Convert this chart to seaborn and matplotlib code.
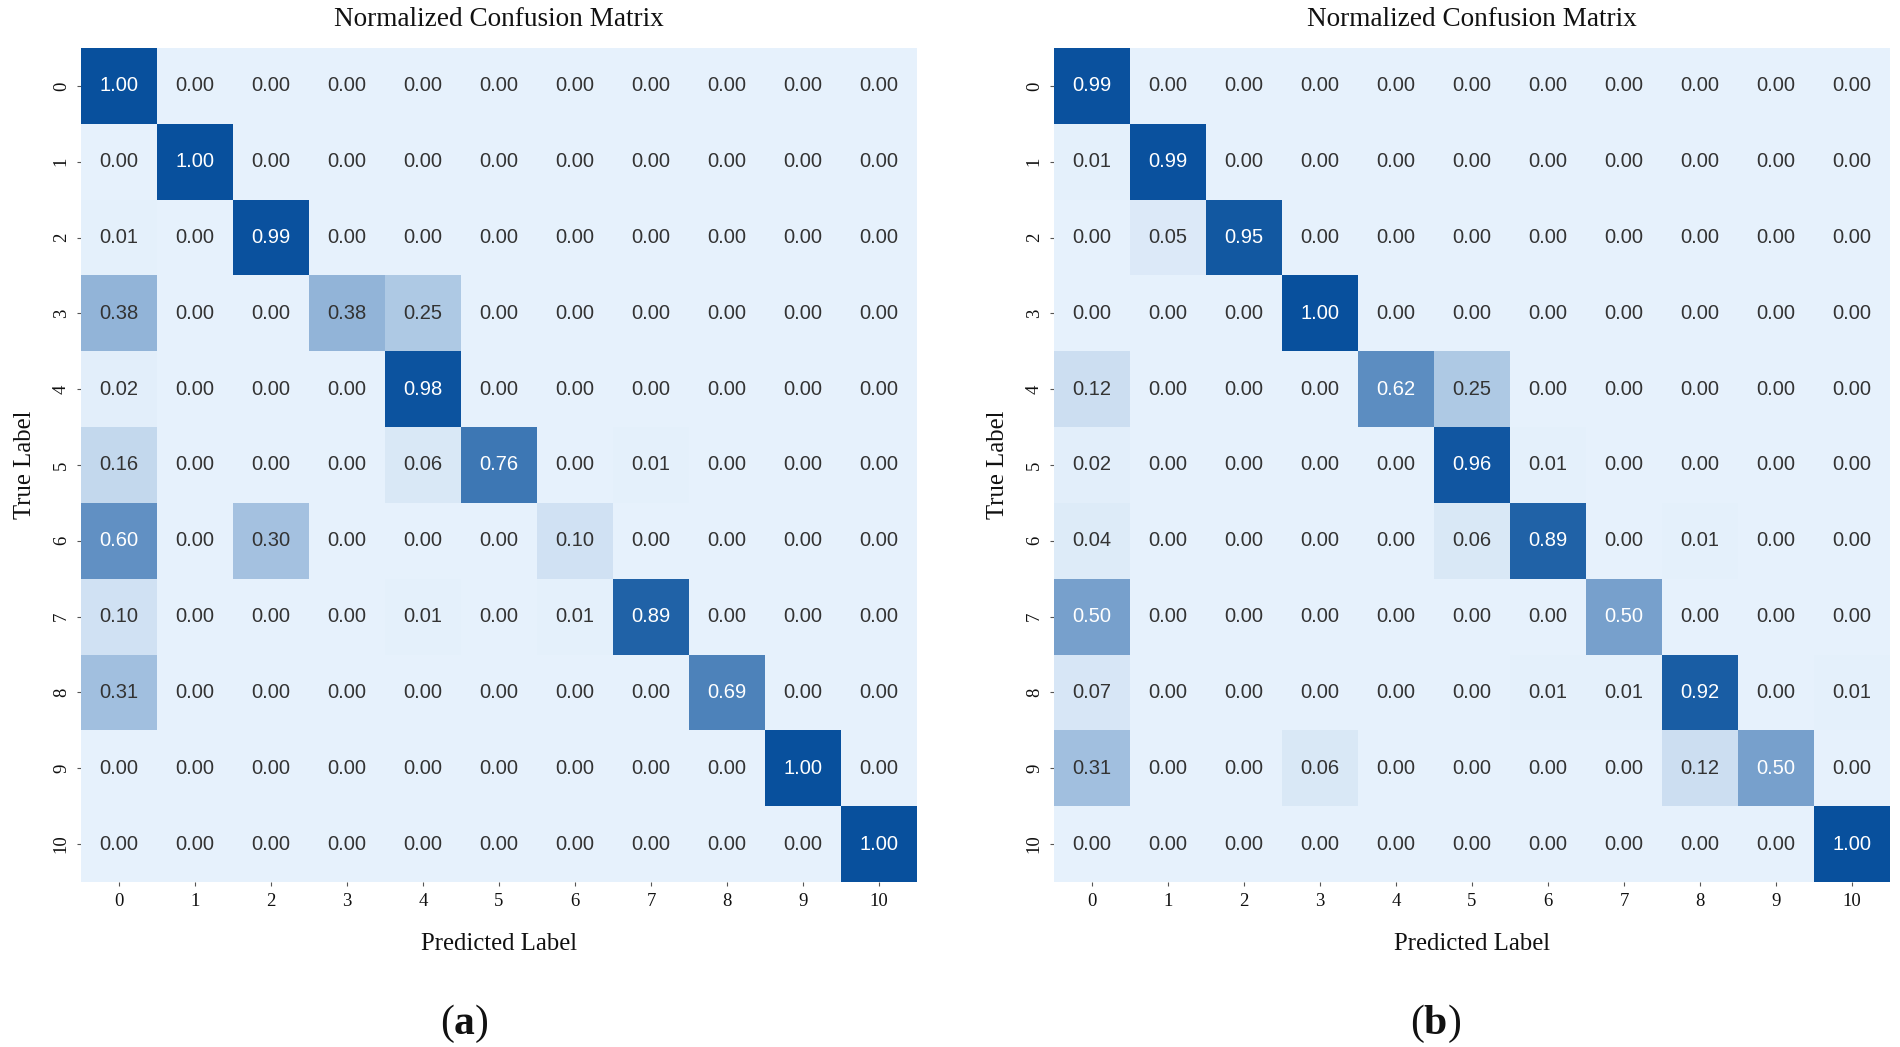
import numpy as np
import matplotlib
matplotlib.use("Agg")
import matplotlib.pyplot as plt
from matplotlib.colors import LinearSegmentedColormap
import seaborn as sns

labels = [str(i) for i in range(11)]

cm_a = [
    [1.00, 0.00, 0.00, 0.00, 0.00, 0.00, 0.00, 0.00, 0.00, 0.00, 0.00],
    [0.00, 1.00, 0.00, 0.00, 0.00, 0.00, 0.00, 0.00, 0.00, 0.00, 0.00],
    [0.01, 0.00, 0.99, 0.00, 0.00, 0.00, 0.00, 0.00, 0.00, 0.00, 0.00],
    [0.38, 0.00, 0.00, 0.38, 0.25, 0.00, 0.00, 0.00, 0.00, 0.00, 0.00],
    [0.02, 0.00, 0.00, 0.00, 0.98, 0.00, 0.00, 0.00, 0.00, 0.00, 0.00],
    [0.16, 0.00, 0.00, 0.00, 0.06, 0.76, 0.00, 0.01, 0.00, 0.00, 0.00],
    [0.60, 0.00, 0.30, 0.00, 0.00, 0.00, 0.10, 0.00, 0.00, 0.00, 0.00],
    [0.10, 0.00, 0.00, 0.00, 0.01, 0.00, 0.01, 0.89, 0.00, 0.00, 0.00],
    [0.31, 0.00, 0.00, 0.00, 0.00, 0.00, 0.00, 0.00, 0.69, 0.00, 0.00],
    [0.00, 0.00, 0.00, 0.00, 0.00, 0.00, 0.00, 0.00, 0.00, 1.00, 0.00],
    [0.00, 0.00, 0.00, 0.00, 0.00, 0.00, 0.00, 0.00, 0.00, 0.00, 1.00],
]

cm_b = [
    [0.99, 0.00, 0.00, 0.00, 0.00, 0.00, 0.00, 0.00, 0.00, 0.00, 0.00],
    [0.01, 0.99, 0.00, 0.00, 0.00, 0.00, 0.00, 0.00, 0.00, 0.00, 0.00],
    [0.00, 0.05, 0.95, 0.00, 0.00, 0.00, 0.00, 0.00, 0.00, 0.00, 0.00],
    [0.00, 0.00, 0.00, 1.00, 0.00, 0.00, 0.00, 0.00, 0.00, 0.00, 0.00],
    [0.12, 0.00, 0.00, 0.00, 0.62, 0.25, 0.00, 0.00, 0.00, 0.00, 0.00],
    [0.02, 0.00, 0.00, 0.00, 0.00, 0.96, 0.01, 0.00, 0.00, 0.00, 0.00],
    [0.04, 0.00, 0.00, 0.00, 0.00, 0.06, 0.89, 0.00, 0.01, 0.00, 0.00],
    [0.50, 0.00, 0.00, 0.00, 0.00, 0.00, 0.00, 0.50, 0.00, 0.00, 0.00],
    [0.07, 0.00, 0.00, 0.00, 0.00, 0.00, 0.01, 0.01, 0.92, 0.00, 0.01],
    [0.31, 0.00, 0.00, 0.06, 0.00, 0.00, 0.00, 0.00, 0.12, 0.50, 0.00],
    [0.00, 0.00, 0.00, 0.00, 0.00, 0.00, 0.00, 0.00, 0.00, 0.00, 1.00],
]

sns.set_theme(style="white")
plt.rcParams["font.family"] = ["Liberation Serif", "DejaVu Serif"]
plt.rcParams["mathtext.fontset"] = "custom"
plt.rcParams["mathtext.rm"] = "Liberation Serif"
plt.rcParams["mathtext.bf"] = "Liberation Serif:bold"
plt.rcParams["text.color"] = "#111111"
plt.rcParams["axes.labelcolor"] = "#111111"
plt.rcParams["xtick.color"] = "#111111"
plt.rcParams["ytick.color"] = "#111111"

cmap = LinearSegmentedColormap.from_list("soft_blues", ["#e6f1fc", "#08509d"])

fig = plt.figure(figsize=(19, 10.47), dpi=100)
W, H = 1900, 1047
axes_px = [(81, 48, 917, 882), (1054, 48, 1890, 882)]
tag_x = [464, 1436]
panels = [("a", cm_a), ("b", cm_b)]

for (x0, y0, x1, y1), tx, (tag, cm) in zip(axes_px, tag_x, panels):
    ax = fig.add_axes([x0 / W, 1 - y1 / H, (x1 - x0) / W, (y1 - y0) / H])
    sns.heatmap(np.array(cm), ax=ax, cmap=cmap, vmin=0, vmax=1, annot=True, fmt=".2f",
                cbar=False, square=False, xticklabels=labels, yticklabels=labels,
                annot_kws={"fontsize": 14.5, "family": ["Liberation Sans Narrow", "Liberation Sans", "DejaVu Sans"]})
    for t in ax.texts:
        if t.get_color() not in ("w", "white"):
            t.set_color("#333333")
    ax.set_title("Normalized Confusion Matrix", fontsize=19.6, pad=16)
    ax.set_xlabel("Predicted Label", fontsize=17.8, labelpad=16.5)
    ax.set_ylabel("True Label", fontsize=17.8, labelpad=12)
    ax.tick_params(axis="both", which="both", length=3, width=0.8, color="#555555",
                   labelsize=13.5, bottom=True, left=True, pad=5)
    ax.set_xticklabels(labels, rotation=0)
    ax.set_yticklabels(labels, rotation=90, va="center")
    fig.text(tx / W, 1 - 1024 / H, r"$(\mathbf{" + tag + r"})$", ha="center", va="center",
             fontsize=30)

fig.savefig("out.png", dpi=100, facecolor="white")
